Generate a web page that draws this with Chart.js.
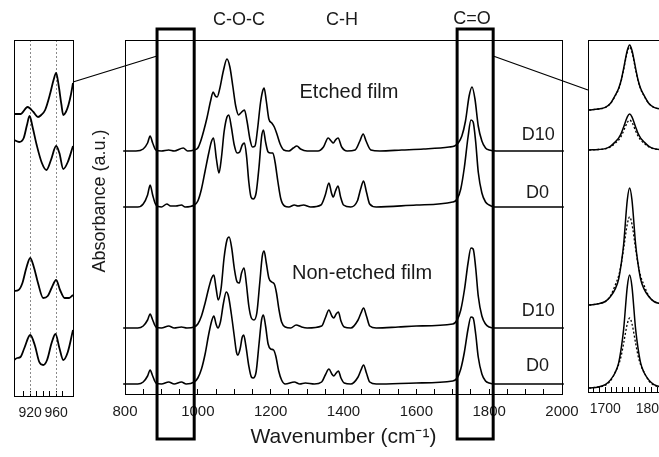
<!DOCTYPE html>
<html>
<head>
<meta charset="utf-8">
<script src="https://cdn.jsdelivr.net/npm/chart.js@4.4.1/dist/chart.umd.min.js"></script>
<style>
  html, body { margin: 0; padding: 0; background: #fff; overflow: hidden; width: 659px; height: 457px; }
  .box { position: absolute; top: 0; }
  #main { left: 0; width: 659px; height: 457px; }
  #left { left: 0; width: 80px; height: 430px; }
  #right { left: 560px; width: 200px; height: 430px; }
</style>
</head>
<body>
<div class="box" id="main"><canvas id="cMain"></canvas></div>
<div class="box" id="left"><canvas id="cLeft"></canvas></div>
<div class="box" id="right"><canvas id="cRight"></canvas></div>
<script>
// ---- data (wavenumber, absorbance a.u.) ----
const etchedD10 = [[795,0],[830,0],[850,2],[862,8],[869,15],[876,8],[885,1],[900,0],[920,1],[935,0],[960,3],[972,0],[990,1],[1000,3],[1008,10],[1016,20],[1025,33],[1035,50],[1042,59],[1048,55],[1053,54],[1060,62],[1070,80],[1080,92],[1088,84],[1096,65],[1104,45],[1112,36],[1118,38],[1128,41],[1135,30],[1143,12],[1150,4],[1157,5],[1164,22],[1172,48],[1178,60],[1182,63],[1188,50],[1195,32],[1203,28],[1210,24],[1218,16],[1226,7],[1236,1],[1250,0],[1262,3],[1272,5],[1282,2],[1300,0],[1330,0],[1345,4],[1358,13],[1366,10],[1372,8],[1378,11],[1385,13],[1395,4],[1410,0],[1432,1],[1445,10],[1454,17],[1462,10],[1475,1],[1500,0],[1560,1],[1620,2],[1690,4],[1705,5],[1715,8],[1725,15],[1735,30],[1745,55],[1753,64],[1761,52],[1770,25],[1780,10],[1790,3],[1800,1],[1820,0],[2005,0]];
const etchedD0 = [[795,0],[835,0],[850,3],[862,12],[869,22],[876,12],[885,2],[900,0],[915,3],[925,1],[940,1],[955,2],[965,0],[990,2],[1000,6],[1010,18],[1020,36],[1030,54],[1037,65],[1043,69],[1051,48],[1058,34],[1065,50],[1072,75],[1080,90],[1085,92],[1092,80],[1100,62],[1108,54],[1115,55],[1122,62],[1128,64],[1134,50],[1140,25],[1146,10],[1152,8],[1160,14],[1168,40],[1175,70],[1180,77],[1186,65],[1193,55],[1200,54],[1206,54],[1212,45],[1220,25],[1228,8],[1238,1],[1250,0],[1265,2],[1275,1],[1290,2],[1310,0],[1338,2],[1350,12],[1360,24],[1367,14],[1372,10],[1378,16],[1385,21],[1392,10],[1400,2],[1420,0],[1438,6],[1447,18],[1455,26],[1463,15],[1472,3],[1490,0],[1600,2],[1700,5],[1712,8],[1722,18],[1732,40],[1742,70],[1750,87],[1756,85],[1763,65],[1770,35],[1780,14],[1790,5],[1800,2],[1815,0],[2005,0]];
const nonEtchedD10 = [[795,0],[835,0],[850,2],[862,8],[869,14],[876,8],[885,1],[900,0],[920,2],[935,0],[955,1],[970,0],[990,1],[1000,4],[1010,12],[1020,25],[1030,40],[1038,50],[1044,53],[1050,40],[1056,28],[1064,40],[1072,70],[1080,88],[1086,91],[1093,80],[1100,60],[1108,46],[1114,45],[1120,55],[1127,60],[1133,45],[1140,22],[1147,10],[1154,8],[1162,15],[1170,45],[1177,72],[1182,77],[1188,65],[1195,50],[1203,46],[1210,44],[1216,35],[1223,18],[1230,6],[1240,1],[1255,0],[1270,3],[1285,1],[1300,0],[1340,2],[1350,10],[1360,18],[1368,12],[1373,10],[1380,14],[1386,16],[1393,7],[1402,1],[1420,0],[1440,8],[1448,15],[1455,20],[1463,12],[1472,2],[1490,0],[1550,1],[1600,2],[1700,4],[1712,8],[1722,18],[1732,38],[1742,65],[1750,80],[1756,79],[1763,60],[1770,32],[1780,12],[1790,4],[1800,1],[1815,0],[2005,0]];
const nonEtchedD0 = [[795,0],[835,0],[850,2],[862,8],[869,14],[876,8],[885,1],[900,0],[920,2],[935,0],[955,2],[968,0],[990,2],[1000,6],[1010,15],[1020,30],[1030,50],[1038,63],[1044,68],[1050,60],[1055,56],[1062,62],[1070,80],[1078,92],[1084,88],[1092,70],[1100,48],[1106,32],[1110,29],[1116,35],[1122,47],[1126,49],[1132,38],[1140,18],[1147,7],[1152,6],[1160,12],[1168,40],[1175,64],[1180,69],[1186,58],[1193,40],[1200,35],[1208,34],[1214,28],[1222,13],[1230,4],[1240,0],[1265,2],[1280,0],[1295,1],[1320,0],[1340,2],[1350,9],[1360,15],[1368,10],[1373,8],[1380,11],[1386,13],[1393,6],[1402,1],[1420,0],[1440,7],[1448,14],[1455,19],[1463,11],[1472,2],[1490,0],[1600,1],[1700,3],[1712,6],[1722,15],[1732,32],[1742,55],[1750,67],[1756,66],[1763,50],[1770,27],[1780,10],[1790,3],[1800,1],[1815,0],[2005,0]];
const mainOffsets = [243, 187, 66, 10];

// left inset (C-O-C region, strongly expanded)
const insetEtchedD10 = [[895,282],[905,282],[916,289],[925,284],[932,279],[937,281],[943,286],[951,303],[956,316],[960,323],[964,310],[968,292],[971,281],[975,284],[979,291],[983,302],[986,313]];
const insetEtchedD0 = [[895,256],[903,254],[910,258],[915,271],[919,280],[924,268],[930,251],[938,233],[945,226],[952,236],[960,250],[965,243],[971,227],[978,234],[986,250]];
const insetNonD10 = [[895,105],[902,106],[908,113],[914,128],[920,138],[926,128],[932,113],[940,98],[947,100],[953,108],[960,116],[966,106],[973,98],[980,98],[986,101]];
const insetNonD0 = [[895,36],[900,38],[905,39],[911,48],[920,61],[927,51],[934,34],[940,31],[946,36],[953,53],[959,62],[965,48],[971,36],[978,44],[986,66]];
const insetGuides = [920, 960];

// right inset (C=O band): solid and dotted traces
const coWave = [1665,1685,1700,1711,1722,1729,1735,1740,1748,1753,1758,1766,1771,1777,1784,1795,1806,1820,1840,1870];
const coEtchedD10 = [0,1,2.6,6.5,15,21.5,30.5,41.6,59.8,65,59.8,41.6,30.5,21.5,15,6.5,2.6,1,0,0];
const coEtchedD10b = [0,1,2.5,6.3,14.5,20.8,29.6,40.3,58,63,58,40.3,29.6,20.8,14.5,6.3,2.5,1,0,0];
const coEtchedD0 = [0,0.5,1.4,3.6,8.3,11.9,16.9,23,33.1,36,33.1,23,16.9,11.9,8.3,3.6,1.4,0.5,0,0];
const coEtchedD0b = [0,0.5,1.2,3,6.9,9.9,14.1,19.2,27.6,30,27.6,19.2,14.1,9.9,6.9,3,1.2,0.5,0,0];
const coNonD10 = [0,1.2,3.5,8.2,16.4,25.7,42.1,60.8,105.3,117,105.3,60.8,42.1,25.7,16.4,8.2,3.5,1.2,0,0];
const coNonD10b = [0,1.3,3.5,8.8,20.2,29,41.4,56.3,81,88,81,56.3,41.4,29,20.2,8.8,3.5,1.3,0,0];
const coNonD0 = [0,1.1,3.4,7.9,15.8,24.9,40.7,58.8,101.7,113,101.7,58.8,40.7,24.9,15.8,7.9,3.4,1.1,0,0];
const coNonD0b = [0,1,2.8,7,16.1,23.1,32.9,44.8,64.4,70,64.4,44.8,32.9,23.1,16.1,7,2.8,1,0,0];
const coOffsets = [282, 242, 87, 4];

const mainTicks = [800, 1000, 1200, 1400, 1600, 1800, 2000];
const leftTicks = [920, 960];
const rightTicks = [1700, 1800];

const FONT = '"Liberation Sans", Arial, sans-serif';
Chart.defaults.font.family = FONT;
Chart.defaults.color = '#1a1a1a';

const frame = {
  id: 'frame',
  afterDatasetsDraw(chart) {
    const { ctx, chartArea: a } = chart;
    ctx.save();
    ctx.strokeStyle = '#000';
    ctx.lineWidth = 1;
    ctx.strokeRect(Math.round(a.left) + 0.5, Math.round(a.top) + 0.5, Math.round(a.right - a.left), Math.round(a.bottom - a.top));
    ctx.restore();
  }
};

function line(points, opts) {
  return Object.assign({
    data: points.map(([x, y]) => ({ x, y })),
    borderColor: '#000', borderWidth: 1.5, pointRadius: 0,
    cubicInterpolationMode: 'monotone', fill: false
  }, opts || {});
}

function xAxis(min, max, step, labels, height, size, extra) {
  return Object.assign({
    type: 'linear', min, max,
    border: { display: false },
    grid: { drawOnChartArea: false, drawTicks: true, tickLength: -5, color: '#000', lineWidth: 1 },
    ticks: {
      stepSize: step, autoSkip: false, maxRotation: 0, padding: 14,
      font: { size }, color: '#1a1a1a',
      callback: v => labels.includes(v) ? String(v) : ''
    },
    afterFit: s => { s.height = height; s.paddingLeft = 0; s.paddingRight = 0; }
  }, extra || {});
}

const baseOpts = {
  responsive: true, maintainAspectRatio: false, animation: false, devicePixelRatio: 1,
  plugins: { legend: { display: false }, tooltip: { enabled: false } }
};

// ---- left inset ----
const guides = {
  id: 'guides',
  beforeDatasetsDraw(chart) {
    const { ctx, chartArea: a, scales: { x } } = chart;
    ctx.save();
    ctx.strokeStyle = '#8a8a8a';
    ctx.lineWidth = 1;
    ctx.setLineDash([2, 2]);
    insetGuides.forEach(v => {
      const px = Math.round(x.getPixelForValue(v)) + 0.5;
      ctx.beginPath(); ctx.moveTo(px, a.top); ctx.lineTo(px, a.bottom); ctx.stroke();
    });
    ctx.restore();
  }
};

new Chart(document.getElementById('cLeft'), {
  type: 'line',
  data: { datasets: [insetEtchedD10, insetEtchedD0, insetNonD10, insetNonD0].map(p => line(p, { borderWidth: 1.8 })) },
  options: Object.assign({}, baseOpts, {
    layout: { padding: { left: 14, right: 7, top: 40, bottom: 0 } },
    scales: {
      x: xAxis(895, 986, 10, leftTicks, 34, 14),
      y: { display: false, min: 0, max: 356 }
    }
  }),
  plugins: [guides, frame]
});

// ---- right inset ----
const coSets = [];
[[coEtchedD10, coEtchedD10b], [coEtchedD0, coEtchedD0b], [coNonD10, coNonD10b], [coNonD0, coNonD0b]].forEach(([solid, dotted], i) => {
  coSets.push(line(coWave.map((w, k) => [w, solid[k] + coOffsets[i]]), { borderWidth: 1.5 }));
  coSets.push(line(coWave.map((w, k) => [w, dotted[k] + coOffsets[i]]), { borderWidth: 1.3, borderDash: [2, 2] }));
});

new Chart(document.getElementById('cRight'), {
  type: 'line',
  data: { datasets: coSets },
  options: Object.assign({}, baseOpts, {
    layout: { padding: { left: 28, right: 80, top: 40, bottom: 0 } },
    scales: {
      x: xAxis(1662.5, 1862.5, 12.5, rightTicks, 38, 14),
      y: { display: false, min: 0, max: 352 }
    }
  }),
  plugins: [frame]
});

// ---- main panel ----
const decor = {
  id: 'decor',
  afterDraw(chart) {
    const { ctx, chartArea: a, scales: { x } } = chart;
    ctx.save();
    // zoom boxes
    ctx.strokeStyle = '#000';
    ctx.lineWidth = 3;
    const boxes = [[888, 990], [1712, 1811]];
    boxes.forEach(([w0, w1]) => {
      const l = x.getPixelForValue(w0), r = x.getPixelForValue(w1);
      ctx.strokeRect(l, a.top - 11, r - l, a.bottom - a.top + 56);
    });
    // connectors to insets
    ctx.lineWidth = 1.3;
    ctx.beginPath();
    ctx.moveTo(73, 82); ctx.lineTo(x.getPixelForValue(888), a.top + 16);
    ctx.moveTo(x.getPixelForValue(1811), a.top + 16); ctx.lineTo(588, 90);
    ctx.stroke();
    // labels
    ctx.fillStyle = '#1a1a1a';
    ctx.textAlign = 'center';
    ctx.textBaseline = 'middle';
    const notes = [
      ['C-O-C', 1113, 20, 18], ['C-H', 1396, 20, 18], ['C=O', 1753, 19, 18],
      ['Etched film', 1415, 92, 20], ['Non-etched film', 1451, 273, 20],
      ['D10', 1935, 135, 18], ['D0', 1933, 193, 18], ['D10', 1935, 311, 18], ['D0', 1933, 366, 18]
    ];
    notes.forEach(([t, w, y, s]) => {
      ctx.font = s + 'px ' + FONT;
      ctx.fillText(t, x.getPixelForValue(w), y);
    });
    // y title
    ctx.font = '18px ' + FONT;
    ctx.translate(100, 201);
    ctx.rotate(-Math.PI / 2);
    ctx.fillText('Absorbance (a.u.)', 0, 0);
    ctx.restore();
  }
};

new Chart(document.getElementById('cMain'), {
  type: 'line',
  data: {
    datasets: [etchedD10, etchedD0, nonEtchedD10, nonEtchedD0].map((s, i) =>
      line(s.map(([w, h]) => [w, h + mainOffsets[i]]), { borderWidth: 1.6, clip: 4 }))
  },
  options: Object.assign({}, baseOpts, {
    layout: { padding: { left: 125, right: 97, top: 40, bottom: 0 } },
    scales: {
      x: xAxis(800, 2000, 50, mainTicks, 63, 15, {
        title: { display: true, text: 'Wavenumber (cm⁻¹)', font: { size: 21 }, color: '#1a1a1a', padding: { top: 0, bottom: 7 } }
      }),
      y: { display: false, min: 0, max: 354 }
    }
  }),
  plugins: [frame, decor]
});
</script>
</body>
</html>
